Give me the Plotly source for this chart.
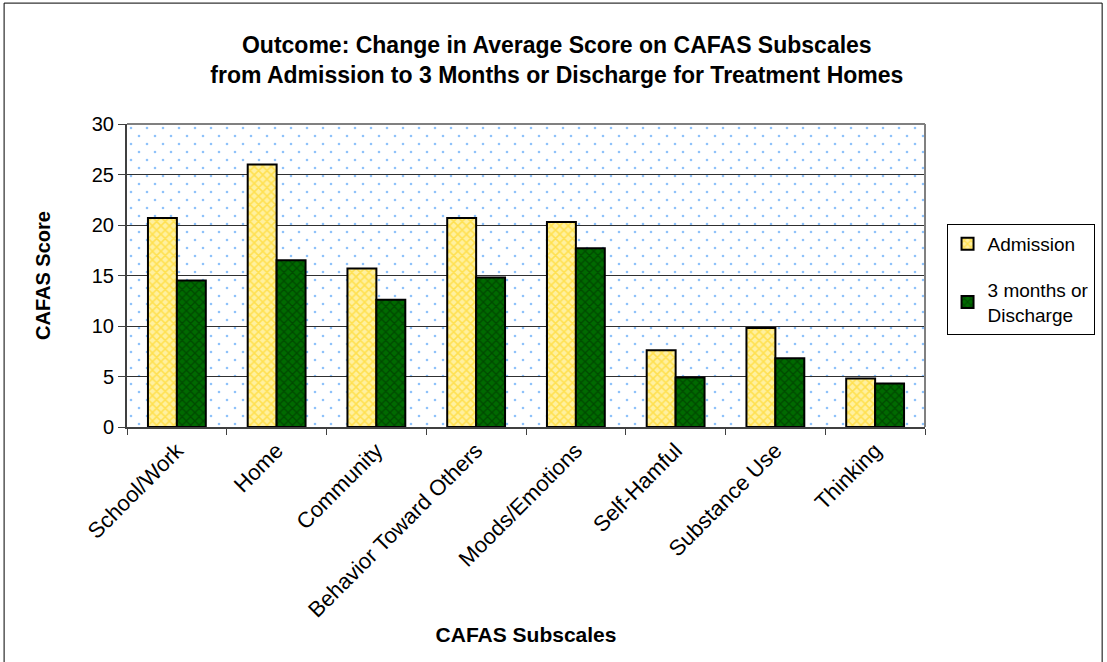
import base64
import plotly.graph_objects as go

categories = ["School/Work", "Home", "Community", "Behavior Toward Others",
              "Moods/Emotions", "Self-Hamful", "Substance Use", "Thinking"]
admission = [20.7, 26.0, 15.7, 20.7, 20.3, 7.6, 9.8, 4.8]
three_months = [14.5, 16.5, 12.6, 14.8, 17.7, 4.9, 6.8, 4.3]
y_ticks = [0, 5, 10, 15, 20, 25, 30]

FONT = "Liberation Sans, Arial, sans-serif"

# dotted texture for the plot area background
dot_svg = (
    '<svg xmlns="http://www.w3.org/2000/svg" width="798" height="303">'
    '<defs><pattern id="d" width="16" height="16" patternUnits="userSpaceOnUse">'
    '<circle cx="4" cy="4" r="1.3" fill="#8FC2FA"/>'
    '<circle cx="12" cy="12" r="1.3" fill="#8FC2FA"/>'
    '</pattern></defs>'
    '<rect width="798" height="303" fill="white"/>'
    '<rect width="798" height="303" fill="url(#d)"/></svg>'
)
dot_uri = "data:image/svg+xml;base64," + base64.b64encode(dot_svg.encode()).decode()

fig = go.Figure()
fig.add_trace(go.Bar(
    x=categories, y=admission, name="Admission", legendgroup="a",
    marker=dict(color="#FFE27A", line=dict(color="black", width=2),
                pattern=dict(shape="x", bgcolor="#FFF0A0", fgcolor="#FFD000",
                             size=6, solidity=0.45, fillmode="overlay")),
))
fig.add_trace(go.Bar(
    x=categories, y=three_months, name="3 months or<br>Discharge", legendgroup="b",
    marker=dict(color="#006400", line=dict(color="black", width=2),
                pattern=dict(shape="x", bgcolor="#006A00", fgcolor="#002A00",
                             size=6, solidity=0.4, fillmode="overlay")),
))

fig.update_layout(
    width=1107, height=662,
    margin=dict(l=127, r=182, t=124, b=235),
    paper_bgcolor="white", plot_bgcolor="rgba(0,0,0,0)",
    barmode="group", bargap=0.42, bargroupgap=0.0,
    font=dict(family=FONT, color="black"),
    title=dict(
        text="<b>Outcome: Change in Average Score on CAFAS Subscales<br>"
             "from Admission to 3 Months or Discharge for Treatment Homes</b>",
        x=0.503, xanchor="center", y=0.92, yanchor="top",
        font=dict(size=23, family=FONT),
    ),
    legend=dict(
        x=1.027, y=0.67, xanchor="left", yanchor="top",
        bordercolor="black", borderwidth=1, bgcolor="white",
        font=dict(size=19, family=FONT), tracegroupgap=18,
        itemwidth=30,
    ),
    showlegend=True,
    images=[dict(source=dot_uri, xref="paper", yref="paper", x=0, y=1,
                 sizex=1, sizey=1, sizing="stretch", xanchor="left",
                 yanchor="top", layer="below")],
)

fig.update_yaxes(
    range=[0, 30], tickvals=y_ticks, ticks="outside", ticklen=7,
    tickcolor="#404040", tickfont=dict(size=20, family=FONT),
    showgrid=True, gridcolor="#303030", gridwidth=1,
    showline=True, linecolor="#404040", linewidth=2, mirror=False,
    zeroline=False,
    title=dict(text="<b>CAFAS Score</b>", font=dict(size=20, family=FONT), standoff=36),
)
fig.update_xaxes(
    tickangle=-45, ticks="outside", ticklen=6, tickcolor="#404040",
    tickson="boundaries", tickfont=dict(size=22, family=FONT),
    showline=True, linecolor="#404040", linewidth=2,
    title=dict(text="<b>CAFAS Subscales</b>", font=dict(size=21, family=FONT), standoff=6),
)

# top and right edges of the plot area
fig.add_shape(type="line", xref="x domain", yref="y domain", x0=0, x1=1, y0=1, y1=1,
              line=dict(color="#808080", width=2))
fig.add_shape(type="line", xref="x domain", yref="y domain", x0=1, x1=1, y0=0, y1=1,
              line=dict(color="#808080", width=2))
# chart frame
fig.add_shape(type="rect", xref="paper", yref="paper",
              x0=-0.154, x1=1.222, y0=-0.82, y1=1.399,
              line=dict(color="black", width=1), layer="below")

fig.write_html("out.html")
